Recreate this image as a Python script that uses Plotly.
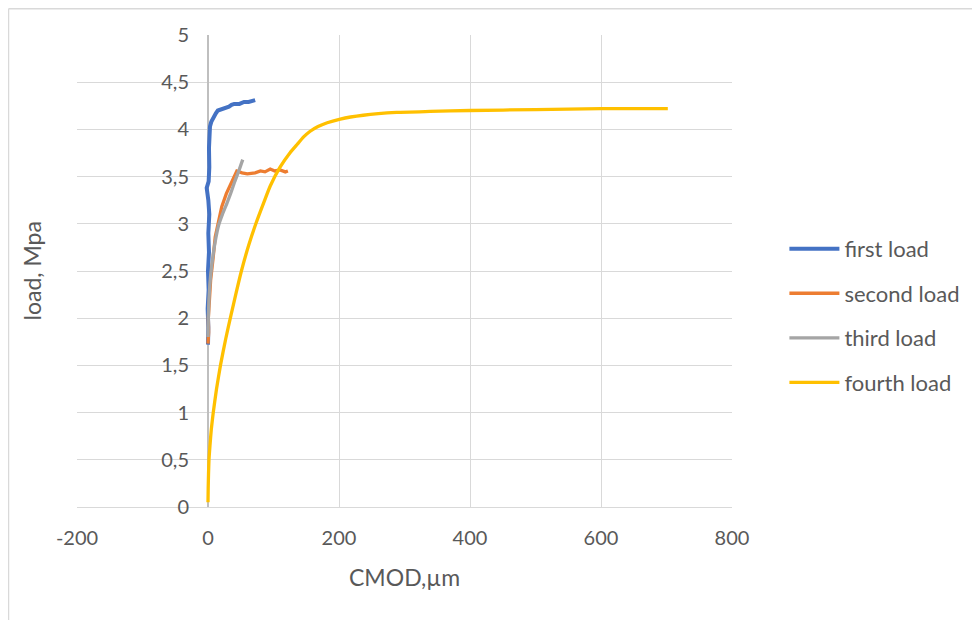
import plotly.graph_objects as go

# ---- data ----
first_x = [0, 0.5, -0.5, 1, 0, 1.5, 0.5, 2, 0.5, -2, 1, 2, 1.5, 2.5, 3, 5, 8, 12, 15, 20, 25, 32, 36, 40, 48, 55, 62, 68, 72]
first_y = [1.72, 1.9, 2.1, 2.3, 2.5, 2.7, 2.9, 3.1, 3.25, 3.38, 3.45, 3.6, 3.8, 3.95, 4.03, 4.08, 4.13, 4.17, 4.2, 4.21, 4.23, 4.24, 4.26, 4.27, 4.27, 4.29, 4.29, 4.30, 4.31]

second_x = [0, 1, 0.5, 2, 4, 8, 11, 16, 21, 28, 37, 44, 52, 60, 72, 80, 87, 95, 102, 110, 118, 122]
second_y = [1.73, 1.85, 2.0, 2.15, 2.4, 2.65, 2.86, 3.02, 3.18, 3.32, 3.46, 3.56, 3.54, 3.53, 3.54, 3.56, 3.55, 3.58, 3.56, 3.57, 3.55, 3.56]

third_x = [0, 0.5, 1.5, 4, 8, 12, 16, 22, 29, 35, 41, 47, 53]
third_y = [1.8, 2.0, 2.2, 2.45, 2.68, 2.85, 2.98, 3.1, 3.22, 3.33, 3.45, 3.56, 3.68]

fourth_x = [0, 0.3, 0.8, 1.5, 3, 5, 8, 13, 19, 27, 35, 43, 51, 62, 73, 86, 95, 110, 125, 136, 146, 156, 168, 182, 202, 237, 288, 339, 400, 500, 600, 702]
fourth_y = [0.05, 0.2, 0.35, 0.5, 0.65, 0.82, 1.0, 1.25, 1.5, 1.78, 2.03, 2.27, 2.5, 2.77, 3.0, 3.24, 3.4, 3.6, 3.75, 3.84, 3.92, 3.98, 4.03, 4.07, 4.11, 4.15, 4.18, 4.19, 4.2, 4.21, 4.22, 4.22]

series_names = ["first load", "second load", "third load", "fourth load"]
colors = ["#4472C4", "#ED7D31", "#A5A5A5", "#FFC000"]

x_ticks = [-200, 0, 200, 400, 600, 800]
y_ticks = [0, 0.5, 1, 1.5, 2, 2.5, 3, 3.5, 4, 4.5, 5]
y_ticktext = ["0", "0,5", "1", "1,5", "2", "2,5", "3", "3,5", "4", "4,5", "5"]

FONT = "Lato"
TXT = "#595959"

fig = go.Figure()
data = [(first_x, first_y), (second_x, second_y), (third_x, third_y), (fourth_x, fourth_y)]
for i, (xs, ys) in enumerate(data):
    fig.add_trace(go.Scatter(
        x=xs, y=ys, mode="lines", name=series_names[i],
        legendgroup=str(i),
        line=dict(color=colors[i], width=4 if i == 0 else 3.3,
                  shape="spline" if i >= 2 else "linear", smoothing=0.5),
    ))

fig.update_layout(
    width=972, height=612,
    margin=dict(l=69, r=248, t=27, b=113),
    paper_bgcolor="white", plot_bgcolor="white",
    font=dict(family=FONT, size=20, color=TXT),
    showlegend=True,
    legend=dict(x=1.08, xanchor="left", y=0.405, yanchor="middle",
                font=dict(family=FONT, size=22, color=TXT),
                tracegroupgap=13, itemwidth=50, bgcolor="rgba(0,0,0,0)"),
    xaxis=dict(range=[-200, 800], tickvals=x_ticks, ticktext=[str(v) for v in x_ticks],
               showgrid=True, gridcolor="#d9d9d9", gridwidth=1,
               zeroline=True, zerolinecolor="#bfbfbf", zerolinewidth=1.5,
               showline=True, linecolor="#d9d9d9", linewidth=1,
               ticks="outside", ticklen=13, tickcolor="rgba(0,0,0,0)",
               tickfont=dict(family=FONT, size=20, color=TXT)),
    yaxis=dict(range=[0, 5], tickvals=y_ticks, ticktext=y_ticktext,
               anchor="free", position=0.2,
               showgrid=True, gridcolor="#d9d9d9", gridwidth=1,
               zeroline=False, showline=False,
               ticks="outside", ticklen=15, tickcolor="rgba(0,0,0,0)",
               tickfont=dict(family=FONT, size=20, color=TXT)),
    annotations=[
        dict(text="CMOD,\u00b5m", xref="paper", yref="paper", x=0.5, y=-0.149,
             xanchor="center", yanchor="middle", showarrow=False,
             font=dict(family=FONT, size=23, color=TXT)),
        dict(text="load, Mpa", xref="paper", yref="paper", x=-0.068, y=0.5,
             xanchor="center", yanchor="middle", showarrow=False, textangle=-90,
             font=dict(family=FONT, size=23, color=TXT)),
    ],
    shapes=[
        dict(type="line", xref="paper", yref="paper", x0=-0.1046, x1=1.5, y0=1.0556, y1=1.0556,
             line=dict(color="#d9d9d9", width=1.5)),
        dict(type="line", xref="paper", yref="paper", x0=-0.1046, x1=-0.1046, y0=1.0556, y1=-0.3,
             line=dict(color="#d9d9d9", width=1.5)),
    ],
)

fig.write_html("out.html")
